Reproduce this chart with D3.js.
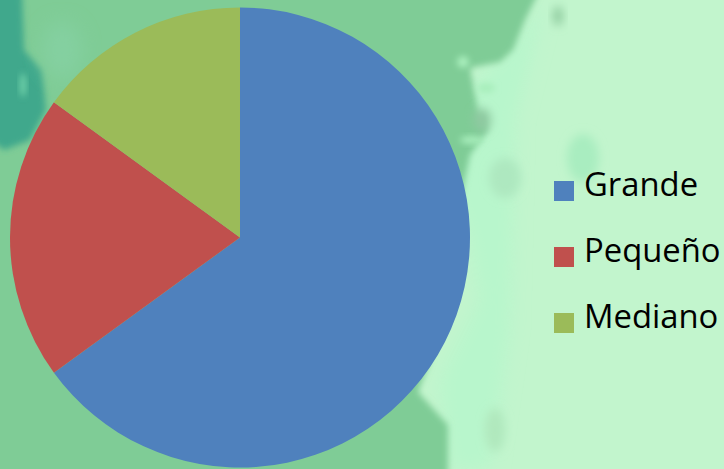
<!DOCTYPE html>
<html><head><meta charset="utf-8">
<style>html,body{margin:0;padding:0;background:#c2f5cd;overflow:hidden}svg{display:block}</style>
<script src="https://cdnjs.cloudflare.com/ajax/libs/d3/7.8.5/d3.min.js"></script>
</head><body><svg id="c" width="724" height="469"></svg>
<script>
const categories = ["Grande","Pequeño","Mediano"];
const values = [65,20,15];
const colors = ["#4f81bd","#c0504d","#9bbb59"];

const svg = d3.select("#c");
const defs = svg.append("defs");
[[3,"b3"],[5,"b5"],[9,"b9"]].forEach(([s,id])=>{
  defs.append("filter").attr("id",id).attr("x","-50%").attr("y","-50%").attr("width","200%").attr("height","200%")
    .append("feGaussianBlur").attr("stdDeviation",s);
});
const bg = svg.append("g");
bg.append("rect").attr("width",724).attr("height",469).attr("fill","#c2f5cd");
// light halo beside the dark land
bg.append("path").attr("d","M545,0 L510,45 L470,90 L445,170 L470,240 L480,300 L440,380 L450,469 L490,469 L510,330 L515,120 L545,0 Z")
  .attr("fill","#b8f6cc").attr("filter","url(#b9)");
// soft green land
bg.append("path").attr("d","M-20,-20 L545,-20 L525,20 L513,50 L500,62 L470,68 L478,110 L488,130 L470,155 L450,250 L430,360 L418,392 L448,425 L448,489 L-20,489 Z")
  .attr("fill","#7fcc96").attr("filter","url(#b3)");
// inland light spots
[[463,62,6,6],[486,88,9,5],[472,140,12,4]].forEach(d=>
  bg.append("ellipse").attr("cx",d[0]).attr("cy",d[1]).attr("rx",d[2]).attr("ry",d[3]).attr("fill","#a8eebc").attr("filter","url(#b3)"));
// island patches on the light part
[[558,16,5,10,"#8fcb9f"],[482,120,9,12,"#8ec9a0"],[505,178,16,20,"#aee8c0"],[583,158,16,24,"#a9edc0"],[495,430,10,22,"#b0e8bd"]].forEach(d=>
  bg.append("ellipse").attr("cx",d[0]).attr("cy",d[1]).attr("rx",d[2]).attr("ry",d[3]).attr("fill",d[4]).attr("filter","url(#b5)"));
// teal strip top left
bg.append("path").attr("d","M-10,-10 L22,-10 L24,50 L42,70 L46,110 L30,140 L4,150 L-10,140 Z")
  .attr("fill","#3fa88c").attr("filter","url(#b3)");
bg.append("ellipse").attr("cx",23).attr("cy",85).attr("rx",3).attr("ry",12).attr("fill","#72d4ab").attr("filter","url(#b3)");
bg.append("ellipse").attr("cx",62).attr("cy",50).attr("rx",20).attr("ry",28).attr("fill","#84d0a0").attr("filter","url(#b9)");

const arc = d3.arc().innerRadius(0).outerRadius(230);
const pie = d3.pie().sort(null).value(d=>d)(values);
svg.append("g").attr("transform","translate(240,237.5)")
  .selectAll("path").data(pie).join("path").attr("d",arc).attr("fill",(d,i)=>colors[i]);

const y = d3.scalePoint().domain(categories).range([191,323]);
const leg = svg.append("g").selectAll("g").data(categories).join("g")
  .attr("transform",d=>`translate(554,${y(d)})`);
leg.append("rect").attr("y",-10).attr("width",20).attr("height",20).attr("fill",(d,i)=>colors[i]);
leg.append("text").text(d=>d).attr("x",30).attr("y",4.5)
  .attr("font-family","'Open Sans',sans-serif").attr("font-size",32.8).attr("fill","#000");
</script></body></html>
